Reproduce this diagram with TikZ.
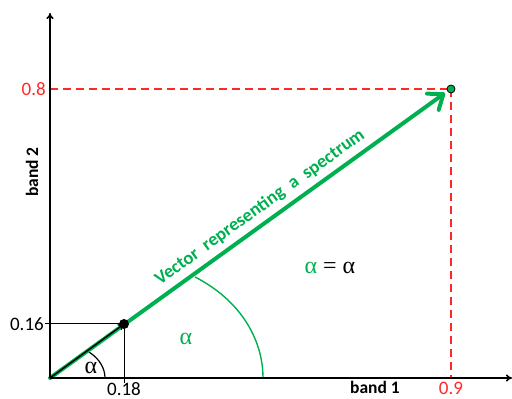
\documentclass[tikz,border=0pt]{standalone}
\usepackage{fontspec}
\setmainfont{Carlito}
\newfontfamily\grk{Liberation Serif}
\usetikzlibrary{arrows.meta}
\definecolor{vgreen}{RGB}{0,176,80}
\definecolor{dred}{RGB}{255,40,40}
\tikzset{
  axis/.style={line width=1.6pt,-{To[length=6pt,width=7pt]}},
  guide/.style={line width=1pt,black},
  reddash/.style={dred,line width=1.2pt,dash pattern=on 8pt off 5pt},
  numlbl/.style={font=\fontsize{19}{21}\selectfont,inner sep=1pt},
  bandlbl/.style={font=\bfseries\fontsize{17.5}{19}\selectfont,inner sep=1pt},
  greek/.style={font=\grk\fontsize{24}{26}\selectfont,inner sep=1pt},
}
\begin{document}
\begin{tikzpicture}[x=1pt,y=1pt]
\useasboundingbox (0,0) rectangle (512,399);
\coordinate (O) at (50,21);
\coordinate (xend) at (512,21);
\coordinate (yend) at (50,386);
\coordinate (P1) at (124,75);
\coordinate (P2) at (451,310);
\coordinate (tip) at (445,306);
\coordinate (y16) at (45,75);
\coordinate (x18) at (124,16);
\coordinate (y08) at (50,310);
\coordinate (x09) at (451,21);
% red dashed guides
\draw[reddash] (y08) -- (P2);
\draw[reddash] (P2) -- (x09);
% black guides
\draw[guide] (y16) -- (P1);
\draw[guide] (P1) -- (x18);
% big green arc
\coordinate (ga1) at (195,122);
\coordinate (ga2) at (263,21);
\draw[vgreen,line width=1.4pt] (ga1) .. controls (240,99) and (263,60) .. (ga2);
% small black arc
\coordinate (ba1) at (89,47);
\coordinate (ba2) at (105,21);
\draw[black,line width=1.2pt] (ba1) .. controls (100,40) and (105,30) .. (ba2);
% green vector
\draw[vgreen,line width=4pt,line cap=round,-{Straight Barb[length=13pt,width=20pt,round,line width=4pt]}] (O) -- (tip);
% black small vector
\draw[black,line width=1.4pt,-{To[length=6pt,width=7pt]}] (O) -- (P1);
% axes
\draw[axis] (O) -- (xend);
\draw[axis] (O) -- (yend);
% dots
\fill[black] (P1) circle (5pt);
\filldraw[fill=vgreen,draw=black,line width=0.8pt] (P2) circle (4pt);
% labels
\node[numlbl,anchor=east] (l16) at (45,75) {0.16};
\node[numlbl,anchor=north] (l18) at (124,18) {0.18};
\node[numlbl,anchor=east,text=dred] (l08) at (47,310) {0.8};
\node[numlbl,anchor=north,text=dred] (l09) at (451,18) {0.9};
\node[bandlbl] (b1) at (375,12) {band 1};
\node[bandlbl,rotate=90] (b2) at (32,227) {band 2};
\node[greek] (a1) at (91,31) {α};
\node[greek,text=vgreen] (a2) at (186,60) {α};
\node[greek] (a3) at (330,131) {\textcolor{vgreen}{α} = α};
\node[font=\bfseries\fontsize{18.5}{20}\selectfont,text=vgreen,rotate=35.8] (vt) at (260,191.5) {Vector\ \ representing\ \ a\ \ spectrum};
\end{tikzpicture}
\end{document}
